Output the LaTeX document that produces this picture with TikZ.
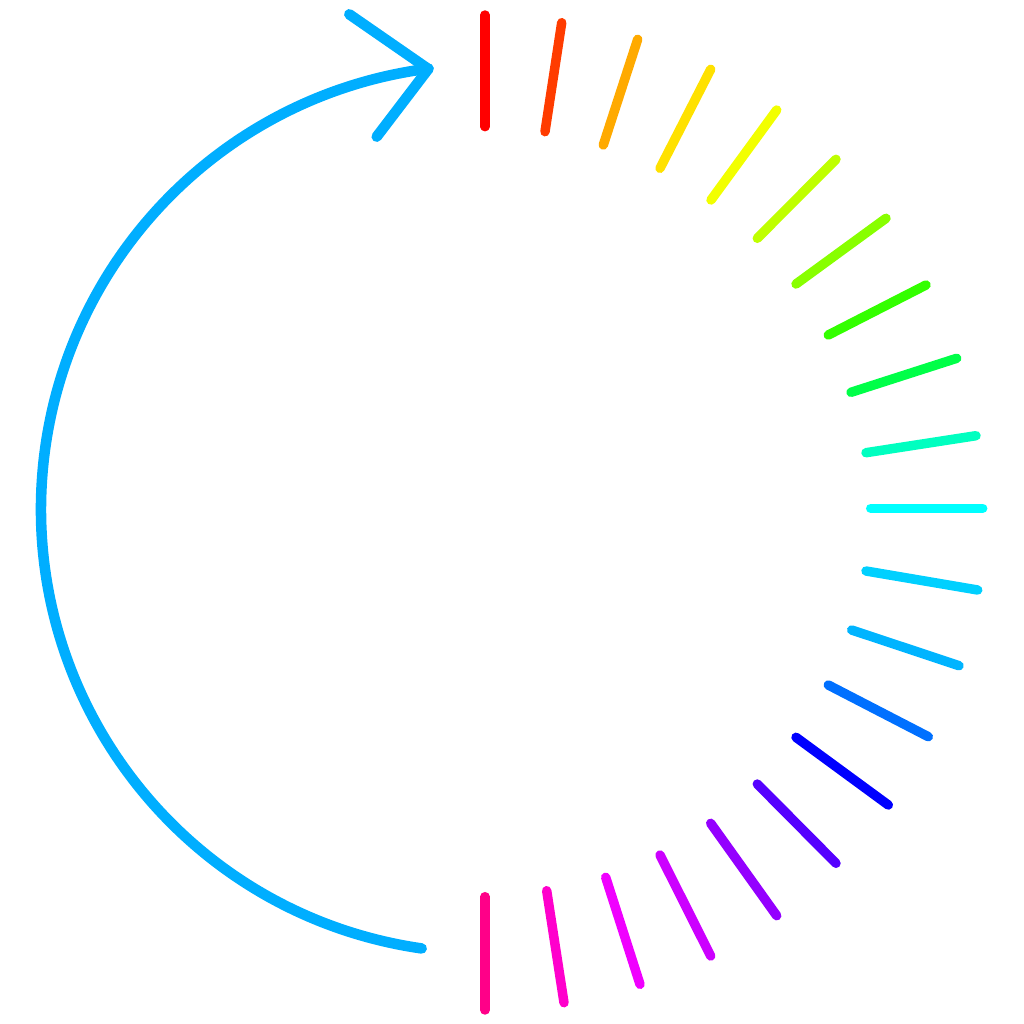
\documentclass[tikz,border=0pt]{standalone}
\definecolor{c1}{HTML}{FF0000}
\definecolor{c2}{HTML}{FF3C00}
\definecolor{c3}{HTML}{FFAA00}
\definecolor{c4}{HTML}{FFE100}
\definecolor{c5}{HTML}{F2FF00}
\definecolor{c6}{HTML}{BFFF00}
\definecolor{c7}{HTML}{88FF00}
\definecolor{c8}{HTML}{33FF00}
\definecolor{c9}{HTML}{00FF48}
\definecolor{c10}{HTML}{00FFC0}
\definecolor{c11}{HTML}{00FFFF}
\definecolor{c12}{HTML}{00D0FF}
\definecolor{c13}{HTML}{00B4FF}
\definecolor{c14}{HTML}{0070FF}
\definecolor{c15}{HTML}{0000FF}
\definecolor{c16}{HTML}{5500FF}
\definecolor{c17}{HTML}{9400FF}
\definecolor{c18}{HTML}{CC00FF}
\definecolor{c19}{HTML}{F000FF}
\definecolor{c20}{HTML}{FF00CC}
\definecolor{c21}{HTML}{FF0088}
\definecolor{arcblue}{HTML}{00AEFF}
\begin{document}
\begin{tikzpicture}[x=0.75pt,y=-0.75pt,
  tick/.style={line width=7.1pt,line cap=round},
  arcline/.style={draw=arcblue,line width=7.9pt,line cap=round,line join=round}]
\useasboundingbox (0,0) rectangle (1024,1024);
% ticks
\draw[tick,c1]  (485,126.7) -- (485,15);
\draw[tick,c2]  (545,131.7) -- (561.7,22.7);
\draw[tick,c3]  (603.3,145) -- (637.7,39.3);
\draw[tick,c4]  (660,168.3) -- (710.7,69.3);
\draw[tick,c5]  (711,200) -- (776.7,110);
\draw[tick,c6]  (757.3,238.3) -- (836,159.3);
\draw[tick,c7]  (796,284) -- (886,218.3);
\draw[tick,c8]  (828.3,335) -- (926,285);
\draw[tick,c9]  (851,392.3) -- (956.7,358.3);
\draw[tick,c10] (866,452.7) -- (976,435.7);
\draw[tick,c11] (870.7,508.3) -- (982.7,508.3);
\draw[tick,c12] (866,571) -- (977.7,590);
\draw[tick,c13] (851.7,630) -- (959,665.7);
\draw[tick,c14] (828.3,685) -- (928.3,736.7);
\draw[tick,c15] (796,737.3) -- (888.3,805);
\draw[tick,c16] (757.3,784) -- (836,863.3);
\draw[tick,c17] (710.7,823.3) -- (776.7,915.7);
\draw[tick,c18] (660,855) -- (710.7,956);
\draw[tick,c19] (605.7,877.3) -- (640,984.3);
\draw[tick,c20] (546.7,890.7) -- (564,1002.7);
\draw[tick,c21] (485,896.7) -- (485,1010);
% arc with open arrow
\coordinate (tip) at (428.3,69);
\coordinate (armA) at (349.3,14.3);
\coordinate (armB) at (376.7,136.7);
\coordinate (ctr) at (485,509);
\draw[arcline] (ctr) ++(98.2:444) arc[start angle=98.2,end angle=262.7,radius=444];
\draw[arcline] (armA) -- (tip) -- (armB);
\end{tikzpicture}
\end{document}
